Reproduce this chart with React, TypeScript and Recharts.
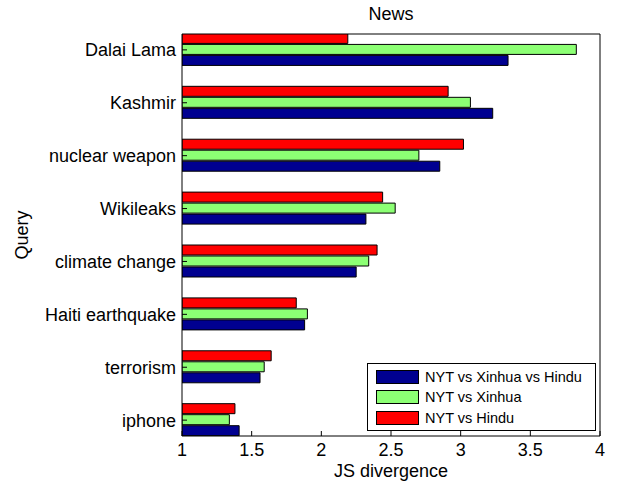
import { Bar, BarChart, XAxis, YAxis } from "recharts";

const queries = [
  "Dalai Lama",
  "Kashmir",
  "nuclear weapon",
  "Wikileaks",
  "climate change",
  "Haiti earthquake",
  "terrorism",
  "iphone",
];
const allThree = [3.34, 3.23, 2.85, 2.32, 2.25, 1.88, 1.56, 1.41];
const nytXinhua = [3.83, 3.07, 2.7, 2.53, 2.34, 1.9, 1.59, 1.34];
const nytHindu = [2.19, 2.91, 3.02, 2.44, 2.4, 1.82, 1.64, 1.38];
const xTicks = [1, 1.5, 2, 2.5, 3, 3.5, 4];
const yTicks = [1, 2, 3, 4, 5, 6, 7, 8];

const BLUE = "#000090";
const GREEN = "#8cff74";
const RED = "#ff0000";
const FONT = "'Liberation Sans', Arial, sans-serif";

const data = queries.map((q, i) => ({
  idx: i + 1,
  query: q,
  all: allThree[i],
  xinhua: nytXinhua[i],
  hindu: nytHindu[i],
}));

const legendItems = [
  { label: "NYT vs Xinhua vs Hindu", color: BLUE },
  { label: "NYT vs Xinhua", color: GREEN },
  { label: "NYT vs Hindu", color: RED },
];

const tickStyle = { fill: "#000", fontSize: 18, fontFamily: FONT };

export default function App() {
  return (
    <div style={{ position: "absolute", left: 0, top: 0, width: 628, height: 482, background: "#fff", fontFamily: FONT }}>
      <BarChart
        width={628}
        height={482}
        data={data}
        layout="vertical"
        margin={{ top: 0, right: 0, bottom: 0, left: 0 }}
        barSize={10}
        barGap={1}
      >
        <XAxis
          type="number"
          domain={[1, 4]}
          ticks={xTicks}
          allowDataOverflow
          height={46}
          stroke="#000"
          tickSize={-5}
          tickMargin={12}
          tick={tickStyle}
          label={{ value: "JS divergence", position: "insideBottom", offset: 5, fill: "#000", fontSize: 18, fontFamily: FONT }}
        />
        <XAxis
          xAxisId="top"
          orientation="top"
          type="number"
          domain={[1, 4]}
          ticks={xTicks}
          allowDataOverflow
          height={34}
          stroke="#000"
          tickSize={-5}
          tick={false}
          label={{ value: "News", position: "insideTop", offset: 7, fill: "#000", fontSize: 18, fontFamily: FONT }}
        />
        <YAxis
          type="number"
          dataKey="idx"
          domain={[0.7, 8.3]}
          ticks={yTicks}
          allowDataOverflow
          width={182}
          stroke="#000"
          tickSize={-5}
          tickMargin={11}
          tick={tickStyle}
          tickFormatter={(v: number) => queries[v - 1] ?? ""}
          label={{ value: "Query", angle: -90, position: "insideLeft", offset: 22, fill: "#000", fontSize: 18, fontFamily: FONT, style: { textAnchor: "middle" } }}
        />
        <YAxis
          yAxisId="right"
          orientation="right"
          type="number"
          dataKey="idx"
          domain={[0.7, 8.3]}
          ticks={yTicks}
          allowDataOverflow
          width={28}
          stroke="#000"
          tickSize={-5}
          tick={false}
        />
        <Bar dataKey="hindu" fill={RED} stroke="#000" strokeWidth={1} isAnimationActive={false} />
        <Bar dataKey="xinhua" fill={GREEN} stroke="#000" strokeWidth={1} isAnimationActive={false} />
        <Bar dataKey="all" fill={BLUE} stroke="#000" strokeWidth={1} isAnimationActive={false} />
      </BarChart>
      <div
        style={{
          position: "absolute",
          left: 367,
          top: 363,
          width: 227,
          height: 66,
          border: "1px solid #000",
          background: "#fff",
        }}
      >
        {legendItems.map((item, i) => (
          <div
            key={item.label}
            style={{ position: "absolute", left: 8, top: 5 + i * 20.5, height: 15, display: "flex", alignItems: "center" }}
          >
            <div style={{ width: 43, height: 14, background: item.color, border: "1px solid #000", boxSizing: "border-box" }} />
            <span style={{ marginLeft: 6, fontSize: 14.5, color: "#000", whiteSpace: "nowrap" }}>{item.label}</span>
          </div>
        ))}
      </div>
    </div>
  );
}
